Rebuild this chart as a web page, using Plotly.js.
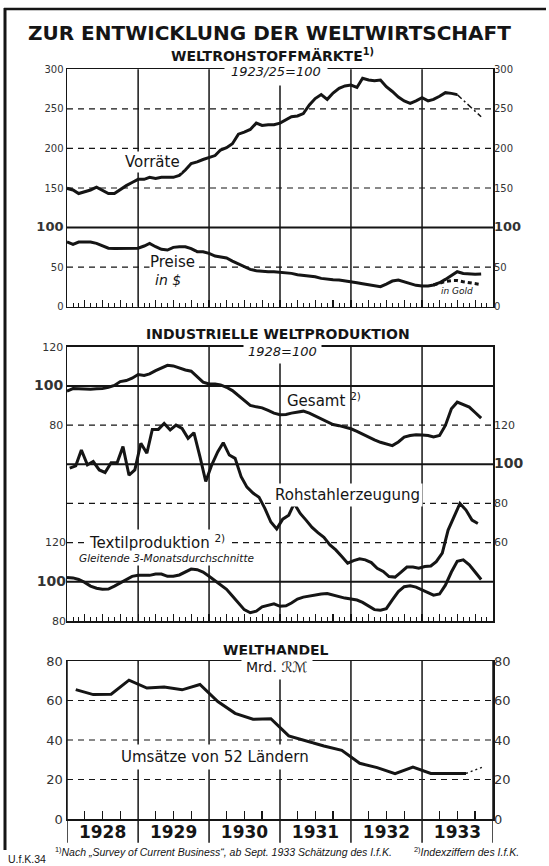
<!DOCTYPE html>
<html><head><meta charset="utf-8">
<script src="https://cdn.plot.ly/plotly-3.0.1.min.js"></script>
<style>html,body{margin:0;padding:0;background:#fff}</style>
</head><body><div id="chart" style="width:549px;height:866px"></div>
<script>
// ---------------- DATA ----------------
const yearLabels = ['1928','1929','1930','1931','1932','1933'];
const yearBounds = ['1928-01-01','1929-01-01','1930-01-01','1931-01-01','1932-01-01','1933-01-01','1934-01-01'];

// Weltrohstoffmärkte, 1923/25 = 100 (monthly, Jan 1928 ...)
const vorraete = [149.6,147.5,143,145,147.5,151,147.5,143,143,148,153,157,
  161,161,163.5,162,163.5,163.5,163.5,166,172.7,181,183,186,
  189,191,198,201,206,218,220.7,224,232,229,230,230,
  232,236,240,241,244,255,263,268,262,270,276,279,
  280,277,288.6,286.5,285.6,286.5,278,272,265,260,257,260,
  264,260,262,266,270.5,269.6,268];
const vorraeteEstimateMonths = ['1933-07-01','1933-11-01'];
const vorraeteEstimate = [268,240];
const preise = [82,78.8,81.7,81.7,81.7,80,77,74,73.7,73.7,73.7,73.7,
  74,76.7,80,75.8,72.5,71.6,75,75.8,75.8,73.3,69.5,69.5,
  67.4,64,63.2,61.5,57.7,54,50.5,47.2,45.5,44.7,44.2,44.2,
  43.8,43,42.1,40.4,39.6,38.8,37.9,35.8,34.5,34,33.7,32.9,
  31.6,30.3,29,27.8,26.5,25.3,28.6,32.4,33.7,31.2,28.6,27,
  26.1,26.1,27.4,30.3,34.5,39,44.2,42,41.3,40.9,41.3];
const preiseGoldMonths = ['1933-03-01','1933-04-01','1933-05-01','1933-06-01','1933-07-01','1933-08-01','1933-09-01','1933-10-01','1933-11-01'];
const preiseGold = [27.4,30,32,33,33,31.5,30.5,29.5,28];

// Industrielle Weltproduktion, 1928 = 100 (monthly)
const gesamt = [97.3,98.6,98.5,98.3,98.3,98.5,98.6,99.3,100.2,102.2,102.7,103.9,
  105.8,105.3,106.1,107.8,109.2,110.5,110.2,109,108.1,107.5,104.9,101.9,
  101,101,100.5,99.3,97.6,95.1,92.2,90,89.3,88.8,87.5,86.1,
  85.3,85.4,86.1,86.8,87.1,86.1,84.7,83.4,81.9,80.3,79.7,79,
  78.1,76.8,75.3,73.9,72.5,71.2,70.2,69.5,71.4,73.9,74.7,75.1,
  74.9,74.7,73.9,74.7,79.8,88.3,91.7,90.5,89.2,86.4,83.5];
const rohstahl = [98,99.2,107.3,99.7,101.4,97.1,95.8,100.8,100.8,109,94.4,97.1,
  110.7,105.6,117.8,117.8,120.8,117.5,120,118.3,113.2,116.1,103.9,91.2,
  99.7,106.4,111,104.7,103,93.7,88.3,85.3,83.2,77.5,70.5,67,
  72,74,80,74.9,71.5,67.8,65.1,62.7,58.8,56.3,52.9,49.5,
  50.8,51.7,51.2,49.8,46.9,45.3,42.7,42.4,44.9,47.5,47.5,46.9,
  47.8,48.1,50.3,54.6,66.4,73.2,80,76.6,71.5,69.8];
const textil = [102.2,102,101.2,99.7,97.8,96.7,96.2,96.3,97.8,99.5,101.2,102.8,
  103.3,103.3,103.3,104,104,102.8,102.8,103.5,105,106.5,106.2,105,
  102.8,100.5,98.7,96.2,92.8,89.2,85.8,84.2,85,87.2,88,88.8,
  87.5,87.8,89.2,91.2,92.2,92.8,93.3,93.8,94,93.2,92.5,91.7,
  91.2,90.7,89.5,87.8,85.8,85.5,86.3,90.8,95,97.5,98,97.3,
  95.8,94.2,93.2,93.8,98.3,105,110.5,111.2,108.7,105,101.2];

// Welthandel, Mrd. RM (quarterly)
const welthandel = [65.5,63,63.2,70.3, 66.3,66.8,65.4,68.1, 59.5,53.5,50.5,50.8,
  42.1,39.4,37,34.8, 28.2,26,22.9,26.3, 23.1,23.1,23.1];
const welthandelEstimateQuarters = ['1933-08-15','1933-11-15'];
const welthandelEstimate = [23.1,26.5];

// ---------------- helpers ----------------
function monthStarts(n){const a=[];for(let i=0;i<n;i++){const y=1928+Math.floor(i/12),m=i%12+1;a.push(y+'-'+String(m).padStart(2,'0')+'-01');}return a;}
function monthMids(n){const a=[];for(let i=0;i<n;i++){const y=1928+Math.floor(i/12),m=i%12+1;a.push(y+'-'+String(m).padStart(2,'0')+'-15');}return a;}
function quarterMids(n){const q=['02-15','05-15','08-15','11-15'];const a=[];for(let i=0;i<n;i++){a.push((1928+Math.floor(i/4))+'-'+q[i%4]);}return a;}

const W=549,H=866,F='DejaVu Sans',INK='#151515';
const X=v=>v/W, Y=v=>1-v/H;

const lineSolid={color:INK,width:3};
const traces=[
  {x:monthStarts(vorraete.length),y:vorraete,xaxis:'x',yaxis:'y',mode:'lines',line:lineSolid},
  {x:vorraeteEstimateMonths,y:vorraeteEstimate,xaxis:'x',yaxis:'y',mode:'lines',line:{color:INK,width:1.5,dash:'6px,3px,2px,3px'}},
  {x:monthStarts(preise.length),y:preise,xaxis:'x',yaxis:'y2',mode:'lines',line:lineSolid},
  {x:preiseGoldMonths,y:preiseGold,xaxis:'x',yaxis:'y2',mode:'lines',line:{color:INK,width:3,dash:'4px,3px'}},
  {x:monthStarts(gesamt.length),y:gesamt,xaxis:'x2',yaxis:'y3',mode:'lines',line:lineSolid},
  {x:monthMids(rohstahl.length),y:rohstahl,xaxis:'x2',yaxis:'y4',mode:'lines',line:lineSolid},
  {x:monthStarts(textil.length),y:textil,xaxis:'x2',yaxis:'y5',mode:'lines',line:lineSolid},
  {x:quarterMids(welthandel.length),y:welthandel,xaxis:'x3',yaxis:'y6',mode:'lines',line:lineSolid},
  {x:welthandelEstimateQuarters,y:welthandelEstimate,xaxis:'x3',yaxis:'y7',mode:'lines',line:{color:INK,width:1.5,dash:'2px,3px'}}
];
traces.forEach(t=>{t.hoverinfo='skip';t.showlegend=false;});

function baseX(anchor){return {type:'date',range:['1928-01-01','1934-01-01'],domain:[X(67),X(493)],anchor,
  showline:true,mirror:true,linecolor:INK,linewidth:1.5,showgrid:false,zeroline:false,
  ticks:'inside',tick0:'1928-01-01',dtick:'M3',ticklen:7,tickwidth:1.2,tickcolor:INK,showticklabels:false,
  minor:{tick0:'1928-01-01',dtick:'M1',ticks:'inside',ticklen:4,tickwidth:1,tickcolor:INK},fixedrange:true};}
function tt(vals,boldVal,size,bsize){return vals.map(v=>v===boldVal?'<span style="font-size:'+bsize+'px;font-weight:bold">'+v+'</span>':String(v));}
function baseY(o){return Object.assign({showgrid:false,zeroline:false,ticks:'',linecolor:INK,linewidth:1.5,fixedrange:true,
  tickfont:{family:F,size:10,color:'#333'}},o);}

const p1=[Y(306.7),Y(69.3)], p2=[Y(621),Y(346.7)], p3=[Y(819),Y(661)];
const v1=[0,50,100,150,200,250,300];
const layout={
  width:W,height:H,margin:{l:0,r:0,t:0,b:0},paper_bgcolor:'#fff',plot_bgcolor:'rgba(0,0,0,0)',showlegend:false,
  font:{family:F,color:INK},
  xaxis:baseX('y'),
  xaxis2:baseX('y3'),
  xaxis3:Object.assign(baseX('y6'),{dtick:'M12',ticks:'',showticklabels:true,ticklabelmode:'period',tickformat:'%Y',
    tickfont:{family:F,size:17,weight:'bold',color:INK},ticklabelstandoff:-3,
    minor:{tick0:'1928-01-01',dtick:'M3',ticks:'inside',ticklen:8,tickwidth:1.3,tickcolor:INK}}),
  yaxis:baseY({domain:p1,range:[0,300],anchor:'x',tickvals:v1,ticktext:tt(v1,100,10,13),showline:true,mirror:true}),
  yaxis2:baseY({overlaying:'y',side:'right',anchor:'x',range:[0,300],tickvals:v1,ticktext:tt(v1,100,10,13),showline:false}),
  yaxis3:baseY({domain:p2,range:[-20,120],anchor:'x2',tickvals:[80,100,120],ticktext:tt([80,100,120],100,11,14),showline:true,mirror:true,tickfont:{family:F,size:11,color:'#333'}}),
  yaxis4:baseY({overlaying:'y3',side:'right',anchor:'x2',range:[20,160],tickvals:[60,80,100,120],ticktext:tt([60,80,100,120],100,11,14),showline:false,tickfont:{family:F,size:11,color:'#333'}}),
  yaxis5:baseY({overlaying:'y3',side:'left',anchor:'x2',range:[80,220],tickvals:[80,100,120],ticktext:tt([80,100,120],100,11,14),showline:false,tickfont:{family:F,size:11,color:'#333'}}),
  yaxis6:baseY({domain:p3,range:[0,80],anchor:'x3',tickvals:[0,20,40,60,80],showline:true,mirror:true,tickfont:{family:F,size:13,color:'#333'}}),
  yaxis7:baseY({overlaying:'y6',side:'right',anchor:'x3',range:[0,80],tickvals:[0,20,40,60,80],showline:false,tickfont:{family:F,size:13,color:'#333'}}),
  shapes:[],annotations:[]
};

// grid lines
const dashG={color:INK,width:1.2,dash:'6px,5px'}, solidG={color:INK,width:2};
function hline(yref,v,line){layout.shapes.push({type:'line',xref:'x domain',x0:0,x1:1,yref,y0:v,y1:v,line,layer:'below'});}
[50,150,200,250].forEach(v=>hline('y',v,dashG)); hline('y',100,solidG);
hline('y3',100,solidG); hline('y3',80,dashG);
hline('y4',100,solidG); hline('y4',80,dashG); hline('y4',60,dashG);
hline('y5',100,solidG);
[20,40,60].forEach(v=>hline('y6',v,dashG));
function vline(xref,yref,d,y0){layout.shapes.push({type:'line',xref,x0:d,x1:d,yref:yref+' domain',y0:y0,y1:1,line:{color:INK,width:1.5},layer:'below'});}
yearBounds.slice(1,6).forEach(d=>{vline('x','y',d,0);vline('x2','y3',d,0);});
yearBounds.forEach(d=>vline('x3','y6',d,-0.15));
// outer frame
layout.shapes.push({type:'line',xref:'paper',yref:'paper',x0:X(5),x1:X(5),y0:Y(8),y1:Y(850),line:{color:INK,width:3}});
layout.shapes.push({type:'line',xref:'paper',yref:'paper',x0:X(4),x1:X(546),y0:Y(9),y1:Y(9),line:{color:INK,width:2.5}});

// text
function label(text,x,y,o){const f=Object.assign({family:F,size:15,color:INK},(o&&o.font)||{});
  const a=Object.assign({text,x:X(x),y:Y(y),xref:'paper',yref:'paper',showarrow:false,xanchor:'center',yanchor:'middle'},o||{});
  a.font=f;layout.annotations.push(a);}
label('1923/25=100',276,72,{font:{size:13,style:'italic'},bgcolor:'#fff',borderpad:6});
label('ZUR ENTWICKLUNG DER WELTWIRTSCHAFT',269,33,{font:{size:20,weight:'bold'}});
label('WELTROHSTOFFMÄRKTE<sup>1)</sup>',272,55,{font:{size:14,weight:'bold'}});
label('Vorräte',152,162,{bgcolor:'#fff',borderpad:1});
label('Preise',172,262,{bgcolor:'#fff',borderpad:0});
label('in $',168,280,{font:{size:14,style:'italic'}});
label('in Gold',457,291,{font:{size:9,style:'italic'}});
label('INDUSTRIELLE WELTPRODUKTION',278,334,{font:{size:14,weight:'bold'}});
label('1928=100',282,351,{font:{size:13,style:'italic'},bgcolor:'#fff',borderpad:4});
label('Gesamt <sup>2)</sup>',285,400,{xanchor:'left'});
label('Rohstahlerzeugung',347,495,{bgcolor:'#fff',borderpad:2});
label('Textilproduktion <sup>2)</sup>',157,542,{bgcolor:'#fff',borderpad:2});
label('Gleitende 3-Monatsdurchschnitte',166,558,{font:{size:10.5,style:'italic'},bgcolor:'#fff',borderpad:1});
label('WELTHANDEL',276,650,{font:{size:14,weight:'bold'}});
label('Mrd. ℛℳ',277,667,{font:{size:14},bgcolor:'#fff',borderpad:4});
label('Umsätze von 52 Ländern',215,757,{bgcolor:'#fff',borderpad:3});
label('U.f.K.34',6,859,{xanchor:'left',font:{size:10.5,family:'Liberation Sans'}});
label('<sup>1)</sup><i>Nach „Survey of Current Business“, ab Sept. 1933 Schätzung des I.f.K.</i>',53,851,{xanchor:'left',font:{size:10.5,family:'Liberation Sans'}});
label('<sup>2)</sup><i>Indexziffern des I.f.K.</i>',412,851,{xanchor:'left',font:{size:10.5,family:'Liberation Sans'}});

Plotly.newPlot('chart',traces,layout,{staticPlot:true,displayModeBar:false});
</script></body></html>
